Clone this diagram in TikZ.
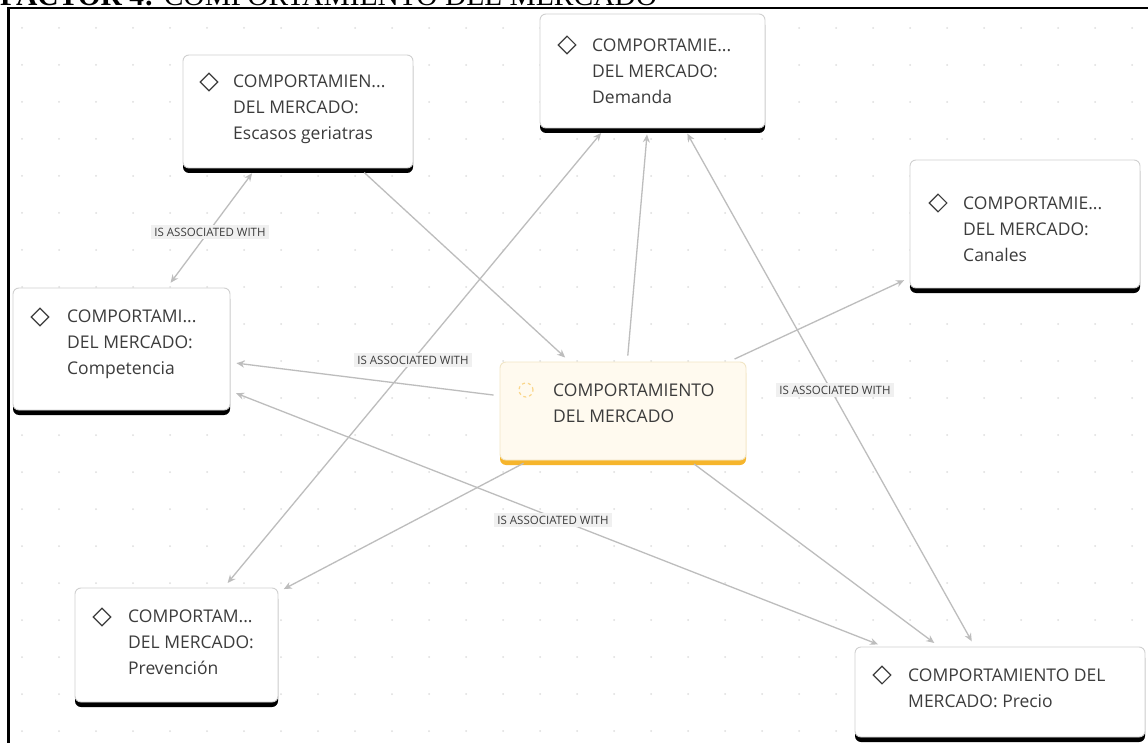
\documentclass[tikz,border=0pt]{standalone}
\usepackage{graphicx}
\usepackage{fontspec}
\setmainfont{Liberation Serif}
\newfontfamily\cardfont{Open Sans}
\usetikzlibrary{arrows.meta,shadows}

\definecolor{cardtext}{HTML}{3C3C3C}
\definecolor{cardline}{HTML}{D0D0D0}
\definecolor{edgegray}{HTML}{BDBDBD}
\definecolor{hubfill}{HTML}{FFFAEF}
\definecolor{hubline}{HTML}{F1E6C6}
\definecolor{hubbar}{HTML}{F6B52C}
\definecolor{tagfill}{HTML}{F0F0F0}
\definecolor{griddot}{HTML}{DDDDDD}

\begin{document}
\begin{tikzpicture}[x=1pt,y=-1pt,
  card/.style={draw=cardline, line width=0.9pt, fill=white, rounded corners=6pt,
    inner sep=0pt,
    drop shadow={shadow xshift=0pt, shadow yshift=-5pt, fill=black, opacity=1}},
  hubcard/.style={draw=hubline, line width=0.9pt, fill=hubfill, rounded corners=6pt,
    inner sep=0pt,
    drop shadow={shadow xshift=0pt, shadow yshift=-5pt, fill=hubbar, opacity=1}},
  cardtxt/.style={font=\cardfont\fontsize{17.5}{26}\selectfont, text=cardtext,
    align=left, inner sep=0pt, anchor=north west},
  icon/.style={draw=cardtext, line width=1.2pt, rotate=45, minimum size=12.5pt,
    inner sep=0pt},
  edge/.style={draw=edgegray, line width=1.3pt, shorten >=6pt, shorten <=6pt,
    >={Stealth[length=8pt,width=7pt]}},
  tag/.style={font=\cardfont\fontsize{11.5}{12}\selectfont, text=cardtext,
    fill=tagfill, inner xsep=3pt, inner ysep=3pt},
]
\useasboundingbox (0,0) rectangle (1148,743);
\fill[white] (0,0) rectangle (1148,743);

% faint dotted canvas grid
\foreach \gx in {22,59,...,1148}
  \foreach \gy in {28,65,...,743}
    \fill[griddot] (\gx,\gy) circle (1pt);

% heading, clipped by the page top
\node[anchor=base west, inner sep=0pt] (title) at (0,6)
  {\resizebox{657pt}{!}{\textbf{FACTOR 4:} COMPORTAMIENTO DEL MERCADO}};

% frame
\draw[line width=2.2pt] (8.5,743) -- (8.5,8) -- (1148,8);

% cards
\node[card, minimum width=230pt, minimum height=113pt] (esc) at (298,111.5) {};
\node[card, minimum width=225pt, minimum height=114pt] (dem) at (652.5,71) {};
\node[card, minimum width=230pt, minimum height=128pt] (can) at (1025,224) {};
\node[card, minimum width=217pt, minimum height=122pt] (com) at (121.5,349) {};
\node[hubcard, minimum width=246pt, minimum height=98pt] (cen) at (623,411) {};
\node[card, minimum width=203pt, minimum height=114pt] (prev) at (176.5,645) {};
\node[card, minimum width=290pt, minimum height=90pt] (prc) at (1000,692) {};

% card icons
\node[icon] (escic) at (209,82) {};
\node[icon] (demic) at (567,45) {};
\node[icon] (canic) at (938,203) {};
\node[icon] (comic) at (40,317) {};
\node[icon] (previc) at (102,617) {};
\node[icon] (prcic) at (882,675) {};
\node[circle, draw=hubbar!55, dashed, line width=1.2pt, minimum size=14pt,
  inner sep=0pt] (cenic) at (526,390) {};

% card texts
\node[cardtxt] (esct) at (233,74.5) {COMPORTAMIEN...\\DEL MERCADO:\\Escasos geriatras};
\node[cardtxt] (demt) at (592,38.5) {COMPORTAMIE...\\DEL MERCADO:\\Demanda};
\node[cardtxt] (cant) at (963,196.5) {COMPORTAMIE...\\DEL MERCADO:\\Canales};
\node[cardtxt] (comt) at (67,309.5) {COMPORTAMI...\\DEL MERCADO:\\Competencia};
\node[cardtxt] (cent) at (553,383.5) {COMPORTAMIENTO\\DEL MERCADO};
\node[cardtxt] (prevt) at (128,609.5) {COMPORTAM...\\DEL MERCADO:\\Prevención};
\node[cardtxt] (prct) at (908,668.5) {COMPORTAMIENTO DEL\\MERCADO: Precio};

% connectors
\draw[edge,<->] (esc) -- (com);
\draw[edge,->] (esc) -- (cen);
\draw[edge,->] (cen) -- (dem);
\draw[edge,->] (cen) -- (can);
\draw[edge,->] (cen) -- (com);
\draw[edge,->] (cen) -- (prev);
\draw[edge,->] (cen) -- (prc);
\draw[edge,<->] (prev) -- (dem);
\draw[edge,<->] (dem) -- (prc);
\draw[edge,<->] (com) -- (prc);

% connector labels
\node[tag] (tag1) at (210,232) {IS ASSOCIATED WITH};
\node[tag] (tag2) at (413,360) {IS ASSOCIATED WITH};
\node[tag] (tag3) at (835,390) {IS ASSOCIATED WITH};
\node[tag] (tag4) at (553,520) {IS ASSOCIATED WITH};
\end{tikzpicture}
\end{document}
